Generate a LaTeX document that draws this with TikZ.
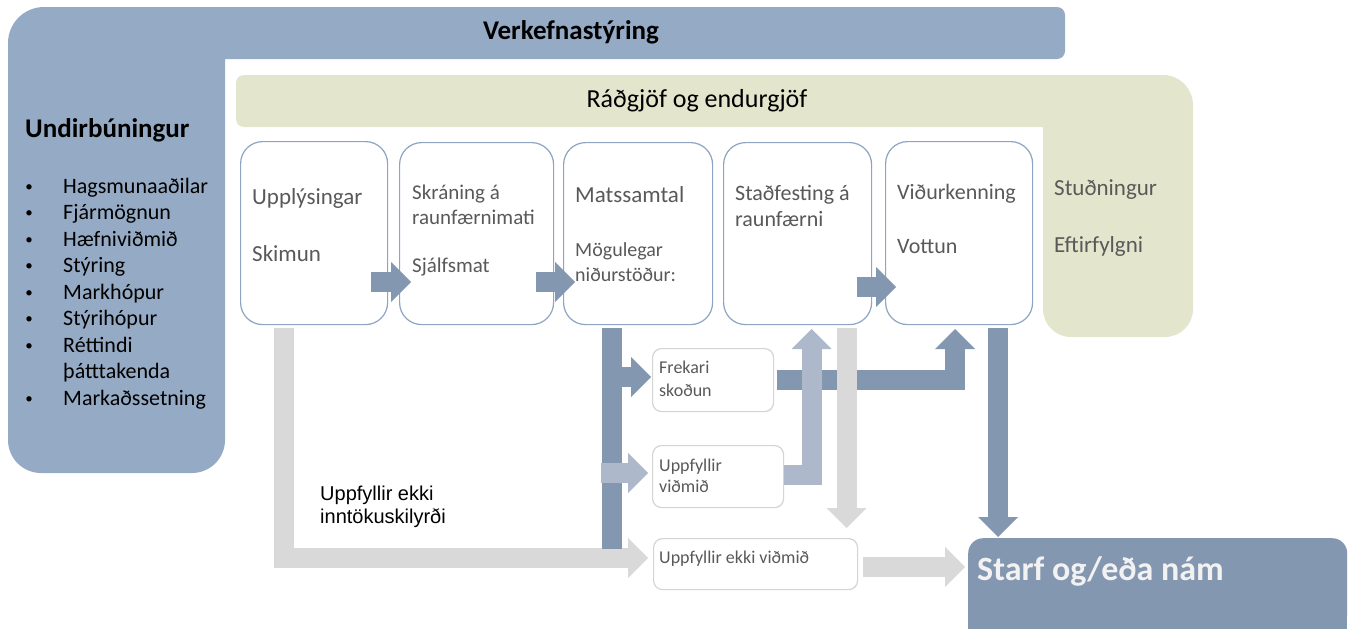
\documentclass[tikz,border=0pt]{standalone}
\usepackage{fontspec}
\setmainfont{Carlito}
\newfontfamily\arialf{Liberation Sans}
\definecolor{blueL}{HTML}{95AAC4}
\definecolor{greenL}{HTML}{E3E6CC}
\definecolor{darkA}{HTML}{8497B0}
\definecolor{lightA}{HTML}{ADB9CB}
\definecolor{greyA}{HTML}{D9D9D9}
\definecolor{txtgrey}{HTML}{595959}
\definecolor{pborder}{HTML}{8EA4C2}
\definecolor{sborder}{HTML}{D4D4D4}
\definecolor{starftxt}{HTML}{F2F2F2}
\newcommand\fs[1]{\fontsize{#1}{#1}\selectfont}
\newcommand\headR[2]{\fill[#2] (#1) -- ++(-20,-20) -- ++(0,40) -- cycle;}
\newcommand\headU[2]{\fill[#2] (#1) -- ++(-20,20) -- ++(40,0) -- cycle;}
\newcommand\headD[2]{\fill[#2] (#1) -- ++(-20,-20) -- ++(40,0) -- cycle;}
\begin{document}
\begin{tikzpicture}[x=1pt,y=-1pt,
  pbox/.style={draw=pborder, line width=1.2pt, fill=white, rounded corners=22pt, anchor=north west, inner sep=0pt},
  sbox/.style={draw=sborder, line width=1.2pt, fill=white, rounded corners=9pt, anchor=north west, inner sep=0pt},
  lbl/.style={anchor=base west, inner sep=0pt, text=txtgrey},
  blk/.style={anchor=base west, inner sep=0pt, text=black},
  bul/.style={anchor=base, inner sep=0pt, text=black, font=\fs{15}},
  blockshaft/.style={line width=20pt, line cap=butt, line join=miter},
]
\useasboundingbox (0,0) rectangle (1353,629);
\fill[white] (0,0) rectangle (1353,629);

% Verkefnastyring L-band
\fill[blueL] (225,59) -- (225,440) arc[start angle=0,end angle=90,radius=33]
  -- (41,473) arc[start angle=90,end angle=180,radius=33]
  -- (8,43) arc[start angle=180,end angle=270,radius=36]
  -- (1057,7) arc[start angle=270,end angle=360,radius=8]
  -- (1065,51) arc[start angle=0,end angle=90,radius=8] -- cycle;
% Radgjof L-band
\fill[greenL] (1043,127) -- (244,127) arc[start angle=90,end angle=180,radius=8]
  -- (236,83) arc[start angle=180,end angle=270,radius=8]
  -- (1163,75) arc[start angle=270,end angle=360,radius=30]
  -- (1193,309) arc[start angle=0,end angle=90,radius=28]
  -- (1071,337) arc[start angle=90,end angle=180,radius=28] -- cycle;

\node[anchor=base, inner sep=0pt, font=\fs{27}\bfseries] (verk) at (571,39) {Verkefnastýring};
\node[anchor=base, inner sep=0pt, font=\fs{26}] (rad) at (697,107) {Ráðgjöf og endurgjöf};
\node[blk, font=\fs{27}\bfseries] (undir) at (25,137) {Undirbúningur};

\begin{scope}[every node/.style={blk, font=\fs{22}}]
\node (u1) at (63,193) {Hagsmunaaðilar};
\node (u2) at (63,219.5) {Fjármögnun};
\node (u3) at (63,246) {Hæfniviðmið};
\node (u4) at (63,272.5) {Stýring};
\node (u5) at (63,299) {Markhópur};
\node (u6) at (63,325.5) {Stýrihópur};
\node (u7) at (63,352) {Réttindi};
\node (u7b) at (63,378.5) {þátttakenda};
\node (u8) at (63,405) {Markaðssetning};
\end{scope}
\node[bul] (ub1) at (29,191) {•};
\node[bul] (ub2) at (29,217.5) {•};
\node[bul] (ub3) at (29,244) {•};
\node[bul] (ub4) at (29,270.5) {•};
\node[bul] (ub5) at (29,297) {•};
\node[bul] (ub6) at (29,323.5) {•};
\node[bul] (ub7) at (29,350) {•};
\node[bul] (ub8) at (29,403) {•};

% process boxes
\node[pbox, minimum width=147pt, minimum height=183pt] (b1) at (240,141) {};
\node[pbox, minimum width=154pt, minimum height=182pt] (b2) at (399,142) {};
\node[pbox, minimum width=149pt, minimum height=182pt] (b3) at (563,142) {};
\node[pbox, minimum width=148pt, minimum height=182pt] (b4) at (723,142) {};
\node[pbox, minimum width=147pt, minimum height=183pt] (b5) at (885,141) {};

\node[lbl, font=\fs{23}] (t1a) at (252,204) {Upplýsingar};
\node[lbl, font=\fs{23}] (t1b) at (252,261) {Skimun};
\node[lbl, font=\fs{21}] (t2a) at (412,199) {Skráning á};
\node[lbl, font=\fs{21}] (t2b) at (412,224) {raunfærnimati};
\node[lbl, font=\fs{21}] (t2c) at (412,272) {Sjálfsmat};
\node[lbl, font=\fs{23}] (t3a) at (575,202) {Matssamtal};
\node[lbl, font=\fs{20}] (t3b) at (575,256) {Mögulegar};
\node[lbl, font=\fs{20}] (t3c) at (575,281) {niðurstöður:};
\node[lbl, font=\fs{22}] (t4a) at (735,200) {Staðfesting á};
\node[lbl, font=\fs{22}] (t4b) at (735,226) {raunfærni};
\node[lbl, font=\fs{22}] (t5a) at (897,199) {Viðurkenning};
\node[lbl, font=\fs{22}] (t5b) at (897,253) {Vottun};
\node[lbl, font=\fs{23}] (st1) at (1054,195) {Stuðningur};
\node[lbl, font=\fs{23}] (st2) at (1054,252) {Eftirfylgni};

% outcome boxes
\node[sbox, minimum width=121pt, minimum height=63pt] (sF) at (652,348) {};
\node[sbox, minimum width=131pt, minimum height=62pt] (sU) at (652,445) {};
\node[sbox, minimum width=204pt, minimum height=51pt] (sN) at (653,538) {};
\node[lbl, font=\fs{18}] (sFa) at (659,373) {Frekari};
\node[lbl, font=\fs{18}] (sFb) at (659,396) {skoðun};
\node[lbl, font=\fs{18}] (sUa) at (659,471) {Uppfyllir};
\node[lbl, font=\fs{18}] (sUb) at (659,492) {viðmið};
\node[lbl, font=\fs{18}] (sNa) at (659,563) {Uppfyllir ekki viðmið};

\node[blk, font=\arialf\fs{20}] (ekki1) at (320,500) {Uppfyllir ekki};
\node[blk, font=\arialf\fs{20}] (ekki2) at (320,523) {inntökuskilyrði};

% Starf box
\node[fill=darkA, rounded corners=15pt, anchor=north west, minimum width=379pt, minimum height=91pt, inner sep=0pt] (starf) at (968,538) {};
\fill[darkA] (968,600) rectangle (1347,629);
\node[anchor=base west, inner sep=0pt, text=starftxt, font=\fs{34}\bfseries] (starft) at (977,580) {Starf og/eða nám};

% connector coordinates
\coordinate (a12s) at (371,282); \coordinate (a12b) at (391,282); \coordinate (a12t) at (411,282);
\coordinate (a23s) at (536,282); \coordinate (a23b) at (555,282); \coordinate (a23t) at (575,282);
\coordinate (a45s) at (857,287); \coordinate (a45b) at (876,287); \coordinate (a45t) at (896,287);
\coordinate (gLs) at (284,328); \coordinate (gLc) at (284,558); \coordinate (gLb) at (628,558); \coordinate (gLt) at (648,558);
\coordinate (dBs) at (612,328); \coordinate (dBe) at (612,549);
\coordinate (dFs) at (612,377); \coordinate (dFb) at (631,377); \coordinate (dFt) at (651,377);
\coordinate (lUs) at (601,473); \coordinate (lUb) at (628,473); \coordinate (lUt) at (648,473);
\coordinate (dLs) at (777,380); \coordinate (dLb) at (955,349); \coordinate (dLt) at (955,329);
\coordinate (lLs) at (784,475); \coordinate (lLb) at (811.5,349); \coordinate (lLt) at (811.5,329);
\coordinate (gDs) at (846.5,328); \coordinate (gDb) at (846.5,508); \coordinate (gDt) at (846.5,528);
\coordinate (dDs) at (998,328); \coordinate (dDb) at (998,517); \coordinate (dDt) at (998,537);
\coordinate (gRs) at (863,567); \coordinate (gRb) at (945,567); \coordinate (gRt) at (965,567);

% Upplysingar -> Uppfyllir ekki vidmid (grey L)
\draw[blockshaft, greyA] (gLs) -- (gLc) -- (gLb); \headR{gLt}{greyA}
% Matssamtal bar and branches
\draw[blockshaft, darkA] (dBs) -- (dBe);
\draw[blockshaft, darkA] (dFs) -- (dFb); \headR{dFt}{darkA}
\draw[blockshaft, lightA] (lUs) -- (lUb); \headR{lUt}{lightA}
% Frekari skodun -> Vidurkenning
\draw[blockshaft, darkA] (dLs) -| (dLb); \headU{dLt}{darkA}
% Uppfyllir vidmid -> Stadfesting
\draw[blockshaft, lightA] (lLs) -| (lLb); \headU{lLt}{lightA}
% Stadfesting -> Uppfyllir ekki vidmid
\draw[blockshaft, greyA] (gDs) -- (gDb); \headD{gDt}{greyA}
% Vidurkenning -> Starf
\draw[blockshaft, darkA] (dDs) -- (dDb); \headD{dDt}{darkA}
% Uppfyllir ekki vidmid -> Starf
\draw[blockshaft, greyA] (gRs) -- (gRb); \headR{gRt}{greyA}
% box to box arrows
\draw[blockshaft, darkA] (a12s) -- (a12b); \headR{a12t}{darkA}
\draw[blockshaft, darkA] (a23s) -- (a23b); \headR{a23t}{darkA}
\draw[blockshaft, darkA] (a45s) -- (a45b); \headR{a45t}{darkA}
\end{tikzpicture}
\end{document}
